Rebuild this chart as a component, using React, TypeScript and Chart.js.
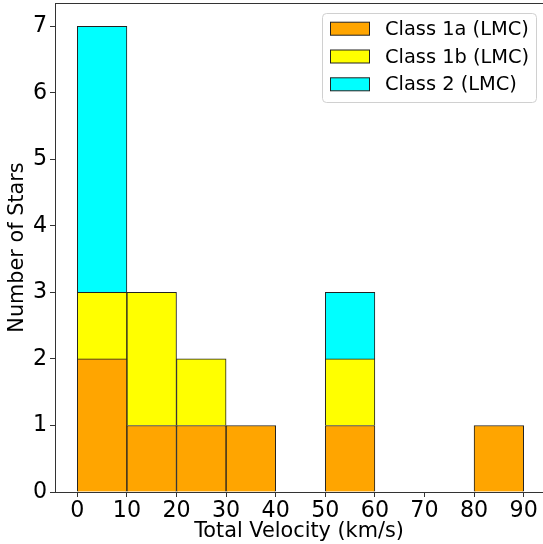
import React, { useEffect, useRef } from "react";
import { Chart, registerables } from "chart.js";

Chart.register(...registerables);

const binStarts = [0, 10, 20, 30, 40, 50, 60, 70, 80];
const binWidth = 10;
const class1a = [2, 1, 1, 1, 0, 1, 0, 0, 1];
const class1b = [1, 2, 1, 0, 0, 1, 0, 0, 0];
const class2 = [4, 0, 0, 0, 0, 1, 0, 0, 0];
const seriesNames = ["Class 1a (LMC)", "Class 1b (LMC)", "Class 2 (LMC)"];
const seriesColors = ["#FFA500", "#FFFF00", "#00FFFF"];
const xTicks = [0, 10, 20, 30, 40, 50, 60, 70, 80, 90];
const yTicks = [0, 1, 2, 3, 4, 5, 6, 7];
const xLabel = "Total Velocity (km/s)";
const yLabel = "Number of Stars";

const FONT = "'DejaVu Sans', sans-serif";
const TICK_SIZE = 22.2;
const LABEL_SIZE = 20.8;
const LEGEND_SIZE = 19.4;

const legendPlugin = {
  id: "mplLegend",
  afterDraw(chart: any) {
    const ctx = chart.ctx;
    const area = chart.chartArea;
    ctx.save();
    // top spine
    ctx.strokeStyle = "#333";
    ctx.lineWidth = 1;
    ctx.beginPath();
    ctx.moveTo(area.left, area.top + 0.5);
    ctx.lineTo(area.right, area.top + 0.5);
    ctx.stroke();

    // legend box
    const bx = 322.5, by = 13.5, bw = 214, bh = 89, r = 4;
    ctx.fillStyle = "rgba(255,255,255,0.8)";
    ctx.strokeStyle = "#d0d0d0";
    ctx.lineWidth = 1;
    ctx.beginPath();
    ctx.moveTo(bx + r, by);
    ctx.lineTo(bx + bw - r, by);
    ctx.quadraticCurveTo(bx + bw, by, bx + bw, by + r);
    ctx.lineTo(bx + bw, by + bh - r);
    ctx.quadraticCurveTo(bx + bw, by + bh, bx + bw - r, by + bh);
    ctx.lineTo(bx + r, by + bh);
    ctx.quadraticCurveTo(bx, by + bh, bx, by + bh - r);
    ctx.lineTo(bx, by + r);
    ctx.quadraticCurveTo(bx, by, bx + r, by);
    ctx.closePath();
    ctx.fill();
    ctx.stroke();

    ctx.font = `${LEGEND_SIZE}px ${FONT}`;
    ctx.textBaseline = "middle";
    ctx.textAlign = "left";
    seriesNames.forEach((name, i) => {
      const cy = 28.7 + i * 27.8;
      ctx.fillStyle = seriesColors[i];
      ctx.fillRect(330, cy - 6.5, 39, 13);
      ctx.strokeStyle = "#222";
      ctx.lineWidth = 1;
      ctx.strokeRect(330.5, cy - 6.5, 39, 13);
      ctx.fillStyle = "#000";
      ctx.fillText(name, 385, cy + 1);
    });
    ctx.restore();
  },
};

export default function App() {
  const ref = useRef<HTMLCanvasElement>(null);
  useEffect(() => {
    const canvas = ref.current;
    if (!canvas) return;
    const toData = (arr: number[]) =>
      binStarts.map((s, i) => ({ x: s + binWidth / 2, y: arr[i] === 0 ? null : arr[i] }));
    const all = [class1a, class1b, class2];
    const chart = new Chart(canvas, {
      type: "bar",
      data: {
        datasets: all.map((arr, i) => ({
          label: seriesNames[i],
          data: toData(arr),
          backgroundColor: seriesColors[i],
          borderColor: "#222",
          borderWidth: 1,
          barPercentage: 1,
          categoryPercentage: 1,
        })) as any,
      },
      plugins: [legendPlugin],
      options: {
        animation: false,
        responsive: false,
        devicePixelRatio: 1,
        layout: { padding: { top: 3, right: 0, left: 0, bottom: 0 } },
        plugins: { legend: { display: false }, tooltip: { enabled: false } },
        scales: {
          x: {
            type: "linear",
            stacked: true,
            offset: false,
            min: -4.5,
            max: 93.9,
            afterBuildTicks: (s: any) => {
              s.ticks = xTicks.map((v) => ({ value: v }));
            },
            afterFit: (s: any) => {
              s.height = 52;
              s.paddingLeft = 0;
              s.paddingRight = 0;
            },
            grid: { drawOnChartArea: false, offset: false, tickLength: 5, color: "#333", lineWidth: 1 },
            border: { color: "#333", width: 1 },
            ticks: {
              color: "#000",
              font: { family: FONT, size: TICK_SIZE },
              padding: 1,
              maxRotation: 0,
              autoSkip: false,
            },
            title: {
              display: true,
              text: xLabel,
              color: "#000",
              font: { family: FONT, size: LABEL_SIZE },
              padding: { top: 0, bottom: 0 },
            },
          },
          y: {
            type: "linear",
            stacked: true,
            min: 0,
            max: 7.35,
            afterBuildTicks: (s: any) => {
              s.ticks = yTicks.map((v) => ({ value: v }));
            },
            afterFit: (s: any) => {
              s.width = 55;
              s.paddingTop = 0;
              s.paddingBottom = 0;
            },
            grid: { drawOnChartArea: false, offset: false, tickLength: 5, color: "#333", lineWidth: 1 },
            border: { color: "#333", width: 1 },
            ticks: {
              color: "#000",
              font: { family: FONT, size: TICK_SIZE },
              padding: 3,
              autoSkip: false,
            },
            title: {
              display: true,
              text: yLabel,
              color: "#000",
              font: { family: FONT, size: LABEL_SIZE },
              padding: { top: 5, bottom: 0 },
            },
          },
        },
      },
    });
    return () => chart.destroy();
  }, []);
  return (
    <div style={{ position: "absolute", left: 0, top: 0, width: 543, height: 544, background: "#fff" }}>
      <canvas ref={ref} width={543} height={544} />
    </div>
  );
}
